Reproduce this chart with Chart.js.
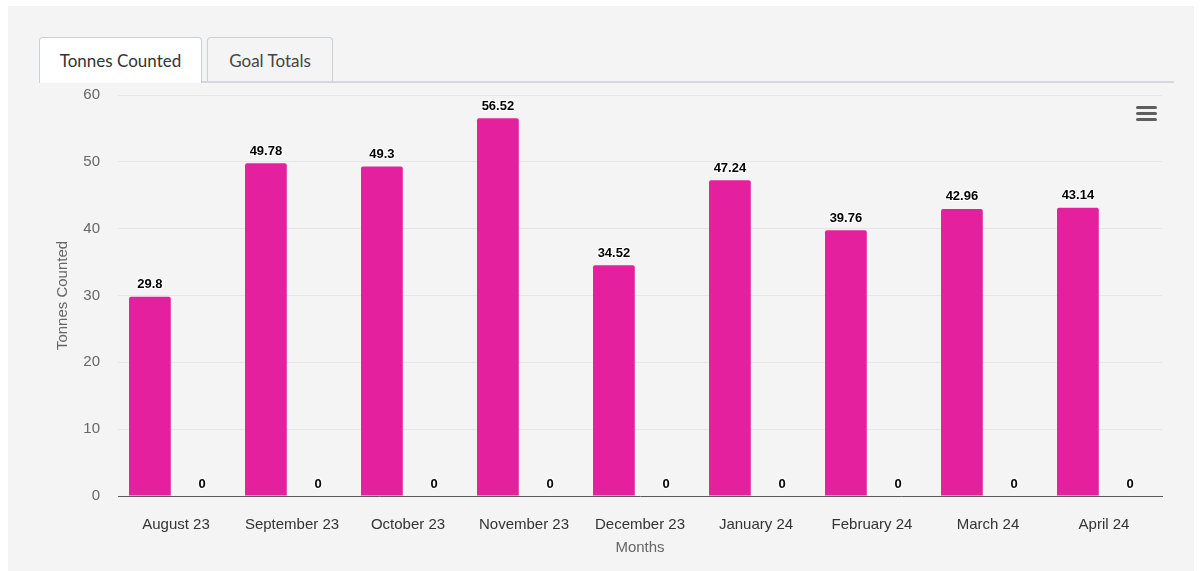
<!DOCTYPE html>
<html>
<head>
<meta charset="utf-8">
<script src="https://cdn.jsdelivr.net/npm/chart.js@4"></script>
<style>
  body { margin: 0; background: #fff; width: 1202px; height: 571px; overflow: hidden; position: relative; }
  #panel { position: absolute; left: 8px; top: 6px; width: 1186px; height: 565px; background: #f4f4f4; }
  .tab { position: absolute; top: 37px; height: 44px; box-sizing: border-box; border: 1px solid #c9d0d8; border-bottom: none;
         border-radius: 4px 4px 0 0; font-family: Lato, "Open Sans", sans-serif; font-size: 17px; color: #333;
         text-align: center; line-height: 46px; }
  #tab1 { left: 39px; width: 163px; background: #fff; height: 46px; z-index: 2; }
  #tab2 { left: 207px; width: 126px; background: #f4f4f4; color: #444; }
  #tabline { position: absolute; left: 39px; top: 81px; width: 1135px; height: 2px; background: #d2d8de; z-index: 1; }
  #box { position: absolute; left: 8px; top: 68px; width: 1186px; height: 503px; }
  #menu { position: absolute; left: 1136px; top: 106px; width: 21px; z-index: 3; }
  #menu span { display: block; height: 3px; background: #5f5f5f; border-radius: 2px; margin-bottom: 3px; }
</style>
</head>
<body>
<div id="panel"></div>
<div class="tab" id="tab1">Tonnes Counted</div>
<div class="tab" id="tab2">Goal Totals</div>
<div id="tabline"></div>
<div id="box"><canvas id="tonnesChart"></canvas></div>
<div id="menu"><span></span><span></span><span></span></div>
<script>
const months = ['August 23', 'September 23', 'October 23', 'November 23', 'December 23',
                'January 24', 'February 24', 'March 24', 'April 24'];
const tonnesCounted = [29.8, 49.78, 49.3, 56.52, 34.52, 47.24, 39.76, 42.96, 43.14];
const goalTotals = [0, 0, 0, 0, 0, 0, 0, 0, 0];
const yTicks = [0, 10, 20, 30, 40, 50, 60];

// labels on top of every bar, drawn by hand (no datalabels plugin offline)
const barLabels = {
  id: 'barLabels',
  afterDatasetsDraw(chart) {
    const ctx = chart.ctx;
    ctx.save();
    ctx.font = 'bold 13px "Liberation Sans", Arial, sans-serif';
    ctx.textAlign = 'center';
    ctx.textBaseline = 'middle';
    ctx.lineJoin = 'round';
    chart.data.datasets.forEach((ds, i) => {
      chart.getDatasetMeta(i).data.forEach((bar, j) => {
        const txt = String(ds.data[j]);
        ctx.strokeStyle = '#fff';
        ctx.lineWidth = 2;
        ctx.strokeText(txt, bar.x, bar.y - 12);
        ctx.fillStyle = '#000';
        ctx.fillText(txt, bar.x, bar.y - 12);
      });
    });
    ctx.restore();
  }
};

const ctx = document.getElementById('tonnesChart').getContext('2d');
new Chart(ctx, {
  type: 'bar',
  data: {
    labels: months,
    datasets: [
      {
        label: 'Tonnes Counted',
        data: tonnesCounted,
        backgroundColor: '#e4209f',
        borderWidth: 0,
        borderRadius: 2,
        categoryPercentage: 0.9,
        barPercentage: 0.8
      },
      {
        label: 'Goal Totals',
        data: goalTotals,
        backgroundColor: '#434348',
        borderWidth: 0,
        categoryPercentage: 0.9,
        barPercentage: 0.8
      }
    ]
  },
  options: {
    responsive: true,
    maintainAspectRatio: false,
    animation: false,
    layout: { padding: { left: 0, right: 32, top: 11, bottom: 0 } },
    plugins: {
      legend: { display: false },
      tooltip: { enabled: false }
    },
    scales: {
      x: {
        afterFit(scale) { scale.height = 75; },
        grid: { display: false, drawTicks: false },
        border: { display: true, color: '#5a5a5a', width: 1 },
        ticks: {
          color: '#333',
          padding: 20,
          font: { family: '"Liberation Sans", Arial, sans-serif', size: 15 }
        },
        title: {
          display: true,
          text: 'Months',
          color: '#666',
          padding: { top: 7, bottom: 14 },
          font: { family: '"Liberation Sans", Arial, sans-serif', size: 15 }
        }
      },
      y: {
        min: 0,
        max: 60,
        afterFit(scale) { scale.width = 110; },
        afterBuildTicks(scale) { scale.ticks = yTicks.map(v => ({ value: v })); },
        grid: {
          drawTicks: false,
          color: c => (c.tick && c.tick.value === 0 ? 'rgba(0,0,0,0)' : '#e6e6e6')
        },
        border: { display: false },
        ticks: {
          color: '#666',
          padding: 18,
          font: { family: '"Liberation Sans", Arial, sans-serif', size: 15 }
        },
        title: {
          display: true,
          text: 'Tonnes Counted',
          color: '#666',
          padding: { top: 46, bottom: 0 },
          font: { family: '"Liberation Sans", Arial, sans-serif', size: 15 }
        }
      }
    }
  },
  plugins: [barLabels]
});
</script>
</body>
</html>
